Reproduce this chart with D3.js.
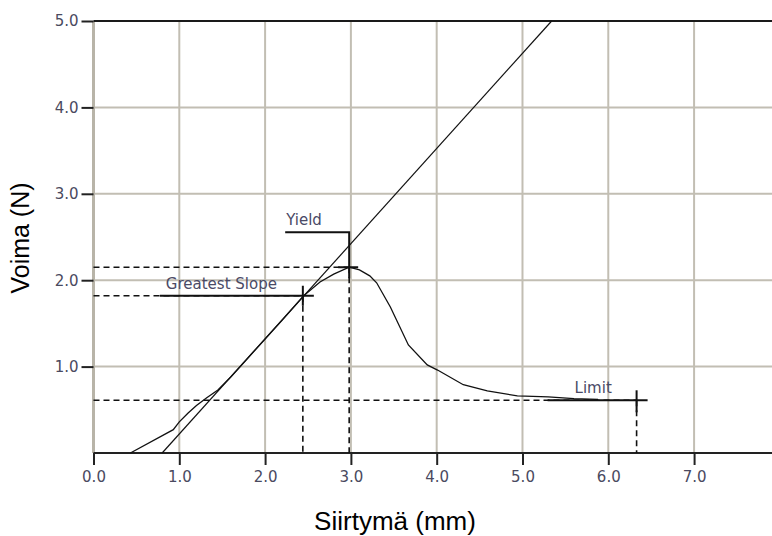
<!DOCTYPE html>
<html><head><meta charset="utf-8">
<script src="https://cdn.jsdelivr.net/npm/d3@7"></script>
<style>body{margin:0;background:#fff}svg{display:block}</style>
</head><body>
<svg id="c" width="772" height="536"></svg>
<script>
// Data
const curveX = [0.43,0.93,1.00,1.10,1.20,1.32,1.45,1.60,1.80,2.00,2.20,2.45,2.64,2.80,2.98,3.10,3.22,3.30,3.46,3.67,3.89,4.01,4.31,4.59,4.94,5.30,5.60,5.88];
const curveY = [0.00,0.27,0.36,0.46,0.55,0.64,0.73,0.88,1.10,1.32,1.54,1.82,1.98,2.07,2.15,2.12,2.05,1.97,1.69,1.25,1.02,0.96,0.79,0.72,0.66,0.65,0.63,0.62];
const tangentX = [0.80,5.34];
const tangentY = [0.00,5.00];
const markerNames = ["Greatest Slope","Yield","Limit"];
const markerX = [2.44,2.98,6.33];
const markerY = [1.82,2.15,0.61];
const xTicks = [0,1,2,3,4,5,6,7];
const xTickLabels = ["0.0","1.0","2.0","3.0","4.0","5.0","6.0","7.0"];
const yTicks = [1,2,3,4,5];
const yTickLabels = ["1.0","2.0","3.0","4.0","5.0"];
const xTitle = "Siirtymä (mm)";
const yTitle = "Voima (N)";

const svg = d3.select("#c");
const x = d3.scaleLinear().domain([0,7.9]).range([93.5,771.3]);
const y = d3.scaleLinear().domain([0,5]).range([453,21]);
const grid = "#c2beb3";

// grid
svg.append("g").selectAll("line").data(xTicks.slice(1)).join("line")
  .attr("x1",d=>x(d)).attr("x2",d=>x(d)).attr("y1",y(5)).attr("y2",y(0))
  .attr("stroke",grid).attr("stroke-width",2);
svg.append("g").selectAll("line").data(yTicks.slice(0,-1)).join("line")
  .attr("x1",x(0)).attr("x2",772).attr("y1",d=>y(d)).attr("y2",d=>y(d))
  .attr("stroke",grid).attr("stroke-width",2);
// left axis line (gray)
svg.append("line").attr("x1",x(0)).attr("x2",x(0)).attr("y1",y(5)).attr("y2",y(0))
  .attr("stroke","#b8b4a8").attr("stroke-width",3);
// top border
svg.append("line").attr("x1",x(0)).attr("x2",772).attr("y1",y(5)).attr("y2",y(5))
  .attr("stroke","#1a1a1a").attr("stroke-width",2);

// axes
const fontTick = "'DejaVu Sans', Verdana, sans-serif";
const tickFill = "#4a4a60";
const xAxis = d3.axisBottom(x).tickValues(xTicks).tickFormat((d,i)=>xTickLabels[i]).tickSize(12).tickPadding(6);
const gx = svg.append("g").attr("transform",`translate(0,${y(0)})`).call(xAxis);
gx.select(".domain").attr("d",`M${x(0)},0H772`).attr("stroke","#222").attr("stroke-width",2);
gx.selectAll(".tick line").attr("stroke","#222").attr("stroke-width",2);
gx.selectAll(".tick text").attr("font-family",fontTick).attr("font-size",15).attr("fill",tickFill);

const yAxis = d3.axisLeft(y).tickValues(yTicks).tickFormat((d,i)=>yTickLabels[i]).tickSize(12).tickPadding(3);
const gy = svg.append("g").attr("transform",`translate(${x(0)},0)`).call(yAxis);
gy.select(".domain").remove();
gy.selectAll(".tick line").attr("stroke","#222").attr("stroke-width",2);
gy.selectAll(".tick text").attr("font-family",fontTick).attr("font-size",15).attr("fill",tickFill);

// dashed reference lines
const dashed = svg.append("g").attr("stroke","#111").attr("stroke-width",1.6).attr("stroke-dasharray","6,4").attr("fill","none");
markerX.forEach((mx,i)=>{
  dashed.append("line").attr("x1",x(0)).attr("x2",x(mx)).attr("y1",y(markerY[i])).attr("y2",y(markerY[i]));
  dashed.append("line").attr("x1",x(mx)).attr("x2",x(mx)).attr("y1",y(markerY[i])).attr("y2",y(0));
});

// tangent line
svg.append("path").datum(tangentX.map((d,i)=>[d,tangentY[i]]))
  .attr("d",d3.line().x(d=>x(d[0])).y(d=>y(d[1])))
  .attr("fill","none").attr("stroke","#111").attr("stroke-width",1.2);

// curve
svg.append("path").datum(curveX.map((d,i)=>[d,curveY[i]]))
  .attr("d",d3.line().x(d=>x(d[0])).y(d=>y(d[1])))
  .attr("fill","none").attr("stroke","#111").attr("stroke-width",1.3);

// markers and labels
const lab = svg.append("g").attr("stroke","#111").attr("stroke-width",2).attr("fill","none");
const labels = svg.append("g").attr("font-family",fontTick).attr("font-size",15).attr("fill","#4a4a66");
// Greatest Slope
{
  const px=x(markerX[0]), py=y(markerY[0]);
  lab.append("line").attr("x1",px-143).attr("x2",px+11).attr("y1",py).attr("y2",py);
  lab.append("line").attr("x1",px).attr("x2",px).attr("y1",py-10).attr("y2",py+10);
  labels.append("text").attr("x",px-137).attr("y",py-7).text(markerNames[0]);
}
// Yield
{
  const px=x(markerX[1]), py=y(markerY[1]);
  lab.append("path").attr("d",`M${px-64},${py-35}H${px}V${py+11}`);
  lab.append("line").attr("x1",px-11).attr("x2",px+9).attr("y1",py).attr("y2",py);
  labels.append("text").attr("x",px-63).attr("y",py-42).text(markerNames[1]);
}
// Limit
{
  const px=x(markerX[2]), py=y(markerY[2]);
  lab.append("line").attr("x1",px-89).attr("x2",px+11).attr("y1",py).attr("y2",py);
  lab.append("line").attr("x1",px).attr("x2",px).attr("y1",py-10).attr("y2",py+12);
  labels.append("text").attr("x",px-62).attr("y",py-7).text(markerNames[2]);
}

// titles
svg.append("text").attr("x",395).attr("y",530).attr("text-anchor","middle")
  .attr("font-family","'Liberation Sans', Arial, sans-serif").attr("font-size",26).attr("fill","#000").text(xTitle);
svg.append("text").attr("transform","translate(29,238) rotate(-90)").attr("text-anchor","middle")
  .attr("font-family","'Liberation Sans', Arial, sans-serif").attr("font-size",25).attr("fill","#000").text(yTitle);
</script>
</body></html>
